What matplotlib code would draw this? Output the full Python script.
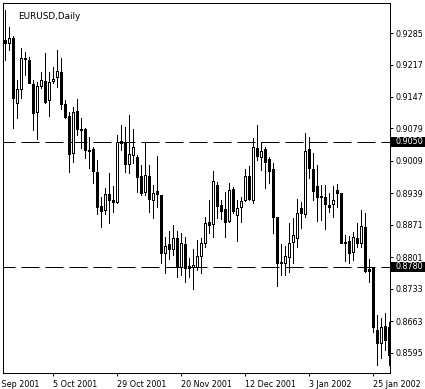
import matplotlib
matplotlib.use("Agg")
import matplotlib.pyplot as plt
import matplotlib.transforms as mtransforms
from matplotlib.patches import Rectangle

# daily EURUSD candles
opens = [0.9271, 0.9264, 0.9275, 0.9134, 0.9165, 0.9232, 0.9227, 0.9175, 0.9115, 0.9171,
         0.9182, 0.9141, 0.9182, 0.9191, 0.9201, 0.9132, 0.9106, 0.9026, 0.9117, 0.9078,
         0.9078, 0.9033, 0.9035, 0.8985, 0.8912, 0.8903, 0.8938, 0.8925, 0.8920, 0.9052,
         0.9048, 0.9003, 0.9022, 0.9018, 0.8977, 0.8942, 0.8977, 0.8925, 0.8944, 0.8936,
         0.8810, 0.8830, 0.8819, 0.8843, 0.8780, 0.8830, 0.8782, 0.8780, 0.8780, 0.8804,
         0.8832, 0.8877, 0.8873, 0.8957, 0.8914, 0.8905, 0.8880, 0.8949, 0.8892, 0.8910,
         0.8925, 0.8977, 0.8925, 0.9037, 0.9018, 0.9035, 0.9013, 0.8992, 0.8888, 0.8791,
         0.8789, 0.8802, 0.8834, 0.8843, 0.8907, 0.8895, 0.9035, 0.8992, 0.8955, 0.8933,
         0.8931, 0.8914, 0.8916, 0.8946, 0.8940, 0.8834, 0.8836, 0.8813, 0.8843, 0.8832,
         0.8867, 0.8776, 0.8780, 0.8644, 0.8616, 0.8653, 0.8651]
highs = [0.9335, 0.9299, 0.9279, 0.9184, 0.9253, 0.9245, 0.9234, 0.9184, 0.9180, 0.9201,
         0.9242, 0.9201, 0.9212, 0.9249, 0.9232, 0.9141, 0.9115, 0.9126, 0.9143, 0.9102,
         0.9080, 0.9061, 0.9039, 0.9011, 0.8931, 0.8951, 0.8983, 0.8955, 0.9065, 0.9087,
         0.9083, 0.9108, 0.9078, 0.9022, 0.9001, 0.9050, 0.9001, 0.8957, 0.9020, 0.8936,
         0.8845, 0.8858, 0.8871, 0.8858, 0.8854, 0.8845, 0.8800, 0.8819, 0.8838, 0.8843,
         0.8888, 0.8925, 0.8988, 0.8964, 0.8925, 0.8942, 0.8962, 0.8953, 0.8925, 0.8931,
         0.8992, 0.8998, 0.9059, 0.9087, 0.9050, 0.9039, 0.9018, 0.9005, 0.8888, 0.8830,
         0.8826, 0.8875, 0.8886, 0.8927, 0.8920, 0.9070, 0.9061, 0.9026, 0.9001, 0.8957,
         0.8957, 0.8940, 0.8955, 0.8959, 0.8940, 0.8849, 0.8847, 0.8856, 0.8875, 0.8903,
         0.8897, 0.8798, 0.8780, 0.8676, 0.8670, 0.8681, 0.8661]
lows = [0.9227, 0.9249, 0.9080, 0.9102, 0.9145, 0.9195, 0.9178, 0.9076, 0.9057, 0.9167,
        0.9134, 0.9106, 0.9178, 0.9169, 0.9121, 0.9102, 0.8985, 0.9007, 0.9065, 0.9037,
        0.9016, 0.8994, 0.8962, 0.8895, 0.8867, 0.8895, 0.8875, 0.8899, 0.8918, 0.9033,
        0.8985, 0.8983, 0.9005, 0.8942, 0.8936, 0.8936, 0.8899, 0.8886, 0.8910, 0.8789,
        0.8767, 0.8798, 0.8806, 0.8759, 0.8763, 0.8748, 0.8759, 0.8733, 0.8774, 0.8767,
        0.8823, 0.8854, 0.8845, 0.8886, 0.8884, 0.8845, 0.8877, 0.8897, 0.8836, 0.8877,
        0.8923, 0.8925, 0.8918, 0.9011, 0.8990, 0.8951, 0.8962, 0.8854, 0.8739, 0.8763,
        0.8763, 0.8769, 0.8789, 0.8823, 0.8864, 0.8888, 0.8972, 0.8925, 0.8880, 0.8882,
        0.8862, 0.8899, 0.8888, 0.8910, 0.8832, 0.8793, 0.8789, 0.8795, 0.8823, 0.8823,
        0.8769, 0.8748, 0.8640, 0.8569, 0.8584, 0.8601, 0.8569]
closes = [0.9264, 0.9275, 0.9145, 0.9165, 0.9232, 0.9229, 0.9178, 0.9113, 0.9171, 0.9184,
          0.9137, 0.9180, 0.9186, 0.9204, 0.9132, 0.9104, 0.9024, 0.9115, 0.9078, 0.9076,
          0.9033, 0.9031, 0.8988, 0.8910, 0.8901, 0.8938, 0.8925, 0.8920, 0.9050, 0.9048,
          0.9003, 0.9024, 0.9039, 0.8974, 0.8940, 0.8979, 0.8927, 0.8940, 0.8938, 0.8810,
          0.8826, 0.8819, 0.8843, 0.8780, 0.8832, 0.8778, 0.8778, 0.8785, 0.8804, 0.8832,
          0.8875, 0.8871, 0.8966, 0.8912, 0.8901, 0.8877, 0.8946, 0.8901, 0.8907, 0.8923,
          0.8977, 0.8927, 0.9039, 0.9020, 0.9031, 0.9007, 0.8988, 0.8888, 0.8789, 0.8789,
          0.8804, 0.8832, 0.8849, 0.8897, 0.8897, 0.9031, 0.8994, 0.8944, 0.8931, 0.8931,
          0.8916, 0.8910, 0.8925, 0.8940, 0.8832, 0.8832, 0.8810, 0.8845, 0.8832, 0.8869,
          0.8772, 0.8772, 0.8651, 0.8616, 0.8651, 0.8622, 0.8590]

date_ticks = [-4, 12, 28, 44, 60, 76, 92]
date_labels = ["13 Sep 2001", "5 Oct 2001", "29 Oct 2001", "20 Nov 2001",
               "12 Dec 2001", "3 Jan 2002", "25 Jan 2002"]
price_ticks = [0.9285, 0.9217, 0.9147, 0.9079, 0.9009, 0.8939,
               0.8871, 0.8801, 0.8733, 0.8663, 0.8595]
levels = [0.9050, 0.8780]

W, H = 425, 389
fig = plt.figure(figsize=(W / 100, H / 100), dpi=100)
ax = fig.add_axes([2.7 / W, (H - 373.3) / H, (390 - 2.7) / W, (373.3 - 2.7) / H])

# horizontal levels (dashed)
for lv in levels:
    ax.axhline(lv, color="black", lw=0.72, linestyle=(6, (18, 6)), zorder=1)

x = list(range(len(opens)))
ax.vlines(x, lows, highs, color="black", lw=0.72, zorder=2, antialiased=False)
bottoms = [min(o, c) for o, c in zip(opens, closes)]
heights = [abs(c - o) for o, c in zip(opens, closes)]
fills = ["white" if c > o else "black" for o, c in zip(opens, closes)]
ax.bar(x, heights, width=0.6, bottom=bottoms, color=fills, edgecolor="black",
       linewidth=0.72, zorder=3, antialiased=False)

ax.set_xlim(-0.575, 96.25)
ax.set_ylim(0.85505, 0.93505)

for sp in ax.spines.values():
    sp.set_linewidth(0.72)
    sp.set_color("black")

# price axis on the right
ax.yaxis.tick_right()
ax.set_yticks(price_ticks)
ax.set_yticklabels(["%.4f" % p for p in price_ticks])
ax.tick_params(axis="y", direction="out", length=2.2, width=0.72, pad=1.5,
               labelsize=5.8, colors="black")

# date axis, labels start at the tick
ax.set_xticks(date_ticks[1:])
ax.set_xticklabels(date_labels[1:])
ax.tick_params(axis="x", direction="out", length=2.2, width=0.72, pad=2.5,
               labelsize=5.8, colors="black")
for lbl in ax.get_xticklabels():
    lbl.set_ha("left")
xtr = mtransforms.blended_transform_factory(ax.transData, ax.transAxes)
ax.text(date_ticks[0], -0.019, date_labels[0], transform=xtr, ha="left", va="top",
        fontsize=5.8, clip_on=False)

# price tags for the levels
ytr = mtransforms.blended_transform_factory(ax.transAxes, ax.transData)
for lv in levels:
    ax.add_patch(Rectangle((1.003, lv - 0.00115), 0.09, 0.0023, transform=ytr,
                           facecolor="black", edgecolor="none", clip_on=False, zorder=5))
    ax.text(1.013, lv, "%.4f" % lv, transform=ytr, color="white", fontsize=5.8,
            ha="left", va="center", clip_on=False, zorder=6)

ax.text(15 / 387.3, 1 - 14 / 370.6, "EURUSD,Daily", transform=ax.transAxes,
        fontsize=6.4, ha="left", va="center", color="black")

fig.savefig("out.png", dpi=100)
